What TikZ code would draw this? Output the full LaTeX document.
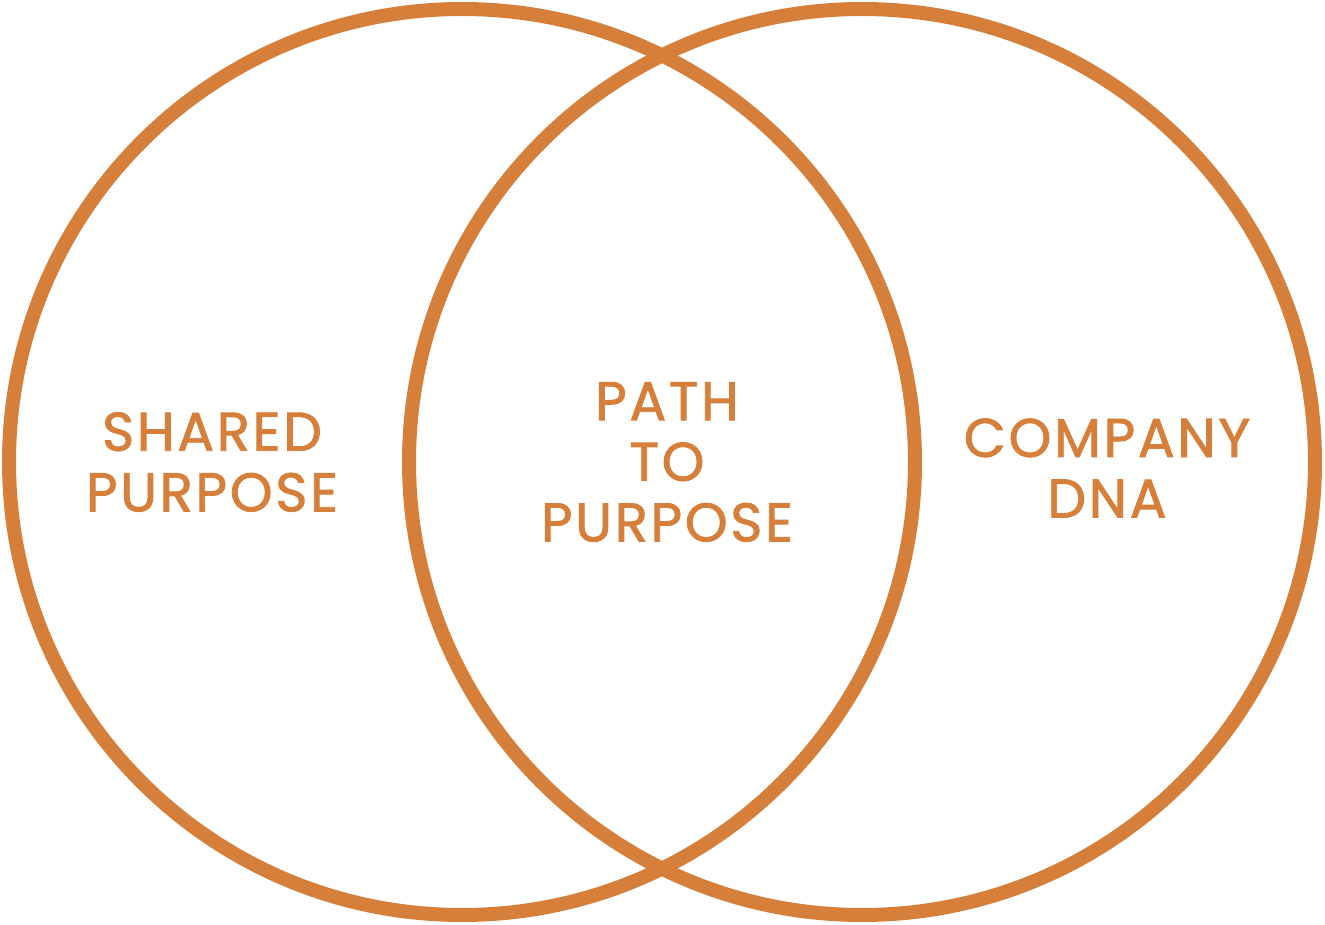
\documentclass[tikz,border=0pt]{standalone}
\usepackage{fontspec}
\newfontfamily\vennfont[LetterSpace=5,FakeBold=1.6]{Poppins}
\definecolor{vennorange}{HTML}{D57F3A}
\begin{document}
\begin{tikzpicture}[x=0.02cm,y=-0.02cm]
            \tikzset{ring/.style={draw=vennorange, line width=0.28cm},
                     lbl/.style={text=vennorange, align=center, font=\vennfont\fontsize{31}{34.5}\selectfont}}
            \useasboundingbox (0,0) rectangle (1325,925);
            \coordinate (L) at (462, 462);
            \coordinate (R) at (862, 462);

            \draw[ring] (L) circle (453*0.02cm);
            \draw[ring] (R) circle (453*0.02cm);

            \node[lbl] (shared) at (212, 462) {SHARED\\PURPOSE};
            \node[lbl] (path) at (667, 462) {PATH\\TO\\PURPOSE};
            \node[lbl] (dna) at (1107, 468) {COMPANY\\DNA};
        \end{tikzpicture}
\end{document}
